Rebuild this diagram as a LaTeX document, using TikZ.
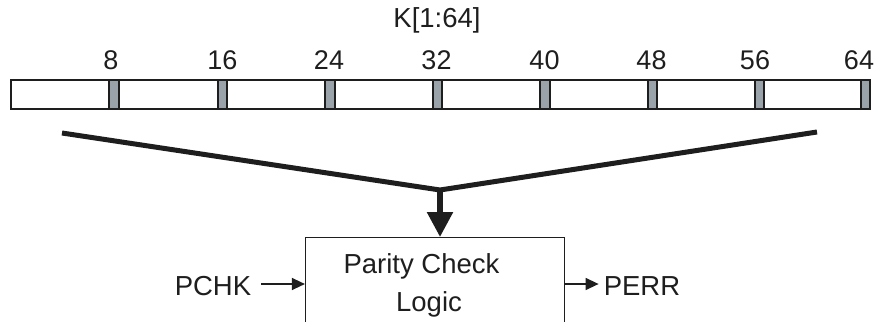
\documentclass[tikz,border=0pt]{standalone}
\usepackage{fontspec}
\setmainfont{Liberation Sans}
\usetikzlibrary{arrows.meta,calc}
\definecolor{sepgray}{HTML}{9AA3AA}
\definecolor{ink}{HTML}{1E1E1E}
\begin{document}
\begin{tikzpicture}[x=1pt,y=-1pt,
  txt/.style={inner sep=0pt,anchor=base,font=\fontsize{27.5}{33}\selectfont,text=ink},
  numtxt/.style={txt,font=\fontsize{27}{32}\selectfont},
  sepbox/.style={draw=ink,line width=2pt,fill=sepgray,minimum width=9.5pt,minimum height=28.5pt,inner sep=0pt},
  bigline/.style={draw=ink,line width=5pt,miter limit=20},
  smallarrow/.style={draw=ink,line width=1.4pt,-{Triangle[length=13pt,width=12pt]}}]
\useasboundingbox (0,0) rectangle (874,321);
\clip (0,0) rectangle (874,321);
% register
\node[draw=ink,line width=2pt,minimum width=858pt,minimum height=28.5pt,inner sep=0pt] (reg) at (439.5,94.5) {};
\foreach \xx/\lx/\nm in {114/111/8,222.5/222.5/16,330/329/24,437.5/436.5/32,545/544.5/40,652.5/651.5/48,759.5/755/56,865.5/859/64}{
  \node[sepbox] (s\nm) at (\xx,94.5) {};
  \node[numtxt] (n\nm) at (\lx,70) {\nm};
}
\node[txt] (title) at (437,28) {K[1:64]};
% V connector
\coordinate (vl) at (62,133);
\coordinate (vr) at (817,132);
\coordinate (apex) at (440,190);
\draw[bigline] (vl) -- (apex) -- (vr);
% logic box
\node[draw=ink,line width=1.2pt,minimum width=259pt,minimum height=160pt,inner sep=0pt,anchor=north] (plc) at (435,237) {};
\node[txt] (l1) at (421.5,273) {Parity Check};
\node[txt] (l2) at (429,311) {Logic};
\draw[draw=ink,line width=5.5pt,-{Triangle[length=25pt,width=25pt]}] (apex) -- (apex |- plc.north);
% side signals
\node[txt] (pchk) at (213,295) {PCHK};
\node[txt] (perr) at (642,295) {PERR};
\coordinate (pa) at ($(pchk.east |- 0,284)+(10,0)$);
\coordinate (pb) at ($(perr.west |- 0,284)+(-5,0)$);
\draw[smallarrow] (pa) -- (plc.west |- pa);
\draw[smallarrow] (plc.east |- pb) -- (pb);
\end{tikzpicture}
\end{document}
